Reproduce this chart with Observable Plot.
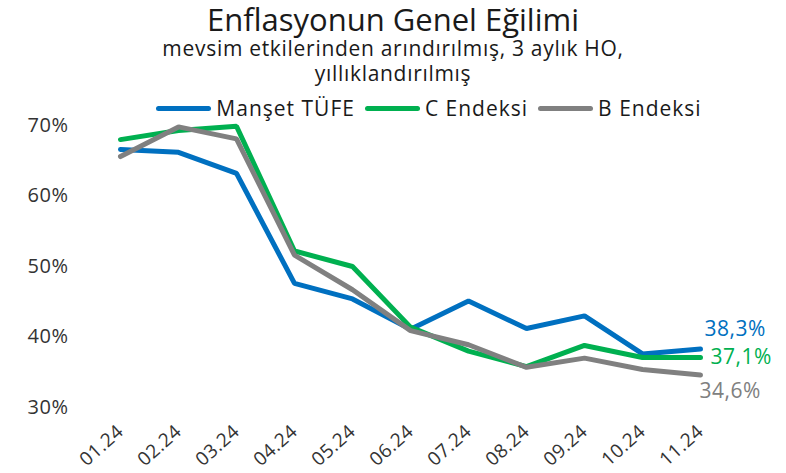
<!DOCTYPE html>
<html><head><meta charset="utf-8">
<script src="https://cdn.jsdelivr.net/npm/d3@7"></script>
<script src="https://cdn.jsdelivr.net/npm/@observablehq/plot@0.6"></script>
<style>
body{margin:0;background:#fff;font-family:"Open Sans",sans-serif;}
#wrap{position:relative;width:786px;height:473px;overflow:hidden;background:#fff}
#head{position:relative;height:100px}
.t{position:absolute;left:0;width:786px;text-align:center;white-space:nowrap;color:#1a1a1a}
#title{top:2px;font-size:31px;line-height:34px}
#sub1{top:36px;font-size:21px;line-height:24px;letter-spacing:0.7px}
#sub2{top:61px;font-size:21px;line-height:24px;letter-spacing:0.7px}
#legend{top:95px;height:26px;display:flex;justify-content:center;align-items:center;font-size:21px;letter-spacing:1px;z-index:2;box-sizing:border-box;padding-left:72px}
.item{display:flex;align-items:center;margin:0 5px}
.sw{display:inline-block;width:55px;height:5px;border-radius:3px;margin-right:5px}
#chart{position:absolute;top:100px;left:0}
#chart svg{display:block}
</style></head>
<body><div id="wrap">
<div id="head">
<div class="t" id="title">Enflasyonun Genel Eğilimi</div>
<div class="t" id="sub1">mevsim etkilerinden arındırılmış, 3 aylık HO,</div>
<div class="t" id="sub2">yıllıklandırılmış</div>
</div>
<div id="chart"></div>
<div class="t" id="legend"></div>
</div>
<script>
const months = ["01.24","02.24","03.24","04.24","05.24","06.24","07.24","08.24","09.24","10.24","11.24"];
const mansetTufe = [66.6,66.2,63.2,47.6,45.4,41.1,45.1,41.2,43.0,37.6,38.3];
const cEndeksi = [68.0,69.3,69.9,52.2,50.0,41.4,38.0,35.8,38.8,37.1,37.1];
const bEndeksi = [65.6,69.8,68.1,51.6,46.7,40.9,38.9,35.7,37.0,35.4,34.6];
const seriesNames = ["Manşet TÜFE","C Endeksi","B Endeksi"];
const seriesColors = ["#0070C0","#00B050","#808080"];
const yTicks = [30,40,50,60,70];

const allSeries = [mansetTufe, cEndeksi, bEndeksi];
const rows = [];
allSeries.forEach((vals, si) => vals.forEach((v, i) => rows.push({series: seriesNames[si], month: months[i], value: v})));
const last = seriesNames.map((s, si) => ({series: s, month: months[months.length-1], value: allSeries[si][allSeries[si].length-1]}));
const fmt = v => v.toFixed(1).replace(".", ",") + "%";

const leg = document.getElementById("legend");
seriesNames.forEach((s, i) => {
  const d = document.createElement("div"); d.className = "item";
  d.innerHTML = `<span class="sw" style="background:${seriesColors[i]}"></span><span>${s}</span>`;
  leg.appendChild(d);
});

const labelOffsets = [{dx:4, dy:-20},{dx:10, dy:0},{dx:-1, dy:16}];

const chart = Plot.plot({
  width: 786, height: 373,
  marginLeft: 118, marginRight: 84, marginTop: 25, marginBottom: 66,
  style: {fontFamily: "'Open Sans', sans-serif", background: "transparent", letterSpacing: "0.5px"},
  x: {type: "point", domain: months, padding: 0},
  y: {domain: [30, 70]},
  color: {domain: seriesNames, range: seriesColors},
  marks: [
    Plot.axisY({ticks: yTicks, tickSize: 0, tickPadding: 50, tickFormat: d => d + "%", fontSize: 20, label: null, color: "#333"}),
    Plot.axisX({tickSize: 0, tickRotate: -42, tickPadding: 21, fontSize: 19, label: null, color: "#333"}),
    Plot.line(rows, {x: "month", y: "value", z: "series", stroke: "series", strokeWidth: 5, strokeLinecap: "round", strokeLinejoin: "miter"}),
    ...seriesNames.map((s, i) => Plot.text(last.filter(d => d.series === s), {
      x: "month", y: "value", text: d => fmt(d.value), fill: seriesColors[i],
      textAnchor: "start", dx: labelOffsets[i].dx, dy: labelOffsets[i].dy, fontSize: 21
    }))
  ]
});
document.getElementById("chart").appendChild(chart);
</script>
</body></html>
